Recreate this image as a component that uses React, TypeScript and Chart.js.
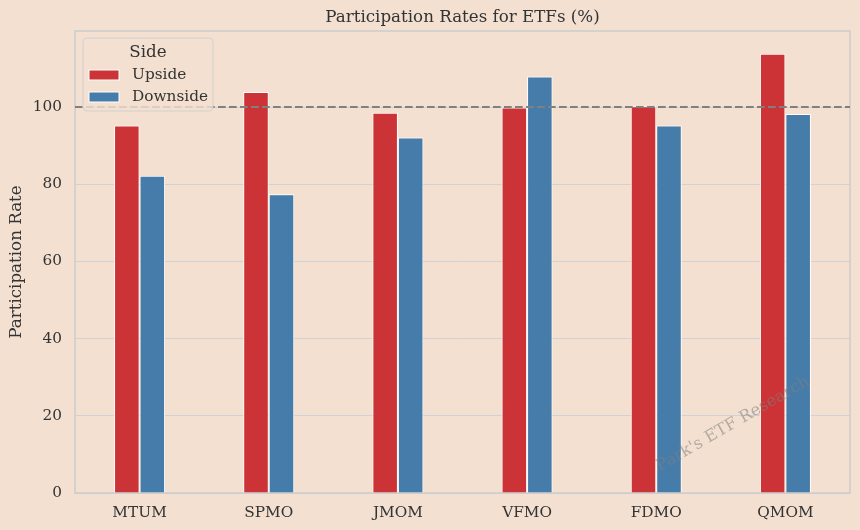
import { Chart, registerables } from "chart.js";
import React, { useEffect, useRef } from "react";

Chart.register(...registerables);

const categories = ["MTUM", "SPMO", "JMOM", "VFMO", "FDMO", "QMOM"];
const upside = [95.2, 103.9, 98.5, 99.9, 100.2, 113.8];
const downside = [82.2, 77.4, 92.1, 107.9, 95.2, 98.2];
const seriesNames = ["Upside", "Downside"];
const yTicks = [0, 20, 40, 60, 80, 100];
const referenceLevel = 100;
const yMax = 119.7;

const chartTitle = "Participation Rates for ETFs (%)";
const yTitle = "Participation Rate";
const legendTitle = "Side";
const watermark = "Park's ETF Research";

const BG = "#f3e0d0";
const FONT = "'DejaVu Serif', serif";
const TEXT = "#333333";

const overlay = {
  id: "overlay",
  beforeDatasetsDraw(chart: any) {
    const { ctx, chartArea: a } = chart;
    ctx.save();
    ctx.strokeStyle = "#cccccc";
    ctx.lineWidth = 1.5;
    ctx.strokeRect(a.left, a.top, a.right - a.left, a.bottom - a.top);
    ctx.restore();
  },
  afterDatasetsDraw(chart: any) {
    const { ctx, chartArea: a, scales } = chart;
    const y = scales.y.getPixelForValue(referenceLevel);
    ctx.save();
    ctx.strokeStyle = "#808080";
    ctx.lineWidth = 2;
    ctx.setLineDash([7.7, 3.3]);
    ctx.beginPath();
    ctx.moveTo(a.left, y);
    ctx.lineTo(a.right, y);
    ctx.stroke();
    ctx.setLineDash([]);

    // watermark
    ctx.translate(733, 424);
    ctx.rotate((-30 * Math.PI) / 180);
    ctx.font = `16.5px ${FONT}`;
    ctx.fillStyle = "rgba(128,128,128,0.55)";
    ctx.textAlign = "center";
    ctx.textBaseline = "middle";
    ctx.fillText(watermark, 0, 0);
    ctx.restore();

    // legend
    ctx.save();
    const lx = a.left + 8;
    const ly = a.top + 7;
    const lw = 130;
    const lh = 73;
    ctx.fillStyle = "rgba(243,224,208,0.8)";
    ctx.strokeStyle = "#d0d0d0";
    ctx.lineWidth = 1;
    ctx.beginPath();
    ctx.roundRect(lx, ly, lw, lh, 4);
    ctx.fill();
    ctx.stroke();
    ctx.fillStyle = TEXT;
    ctx.font = `16.7px ${FONT}`;
    ctx.textAlign = "center";
    ctx.textBaseline = "middle";
    ctx.fillText(legendTitle, lx + 65, ly + 15);
    ctx.font = `15.3px ${FONT}`;
    ctx.textAlign = "left";
    chart.data.datasets.forEach((ds: any, i: number) => {
      const cy = ly + 37 + i * 22;
      ctx.fillStyle = ds.backgroundColor;
      ctx.fillRect(lx + 6, cy - 5, 30, 10);
      ctx.strokeStyle = "#ffffff";
      ctx.strokeRect(lx + 6, cy - 5, 30, 10);
      ctx.fillStyle = TEXT;
      ctx.fillText(ds.label, lx + 49, cy);
    });
    ctx.restore();
  },
  afterDraw(chart: any) {
    const { ctx, chartArea: a } = chart;
    ctx.save();
    ctx.fillStyle = TEXT;
    ctx.textAlign = "center";
    ctx.textBaseline = "middle";
    ctx.font = `16.7px ${FONT}`;
    ctx.fillText(chartTitle, (a.left + a.right) / 2, 18);
    ctx.translate(17, (a.top + a.bottom) / 2);
    ctx.rotate(-Math.PI / 2);
    ctx.fillText(yTitle, 0, 0);
    ctx.restore();
  },
};

const ParticipationChart: React.FC = () => {
  const canvasRef = useRef<HTMLCanvasElement | null>(null);

  useEffect(() => {
    document.body.style.margin = "0";
    if (!canvasRef.current) return;
    const chart = new Chart(canvasRef.current, {
      type: "bar",
      data: {
        labels: categories,
        datasets: [
          {
            label: seriesNames[0],
            data: upside,
            backgroundColor: "#cc3336",
            borderColor: "#ffffff",
            borderWidth: 1,
          },
          {
            label: seriesNames[1],
            data: downside,
            backgroundColor: "#467ca9",
            borderColor: "#ffffff",
            borderWidth: 1,
          },
        ],
      },
      options: {
        animation: false,
        responsive: false,
        layout: { padding: { top: 31, right: 10, left: 0, bottom: 0 } },
        datasets: { bar: { categoryPercentage: 0.395, barPercentage: 1 } },
        plugins: {
          legend: { display: false },
          title: { display: false },
          tooltip: { enabled: false },
        },
        scales: {
          x: {
            grid: { display: false },
            border: { display: false },
            ticks: { font: { family: FONT, size: 15.3 }, color: TEXT, padding: 3 },
            afterFit: (s: any) => {
              s.height = 37;
            },
          },
          y: {
            min: 0,
            max: yMax,
            grid: { color: "#cfd2d6", lineWidth: 1, drawTicks: false },
            border: { display: false },
            ticks: {
              font: { family: FONT, size: 15.3 },
              color: TEXT,
              padding: 13,
            },
            afterBuildTicks: (s: any) => {
              s.ticks = yTicks.map((v) => ({ value: v }));
            },
            afterFit: (s: any) => {
              s.width = 75;
            },
          },
        },
      },
      plugins: [overlay],
    });
    return () => chart.destroy();
  }, []);

  return (
    <div style={{ width: 860, height: 530, background: BG }}>
      <canvas ref={canvasRef} width={860} height={530} />
    </div>
  );
};

export default function App() {
  return <ParticipationChart />;
}
